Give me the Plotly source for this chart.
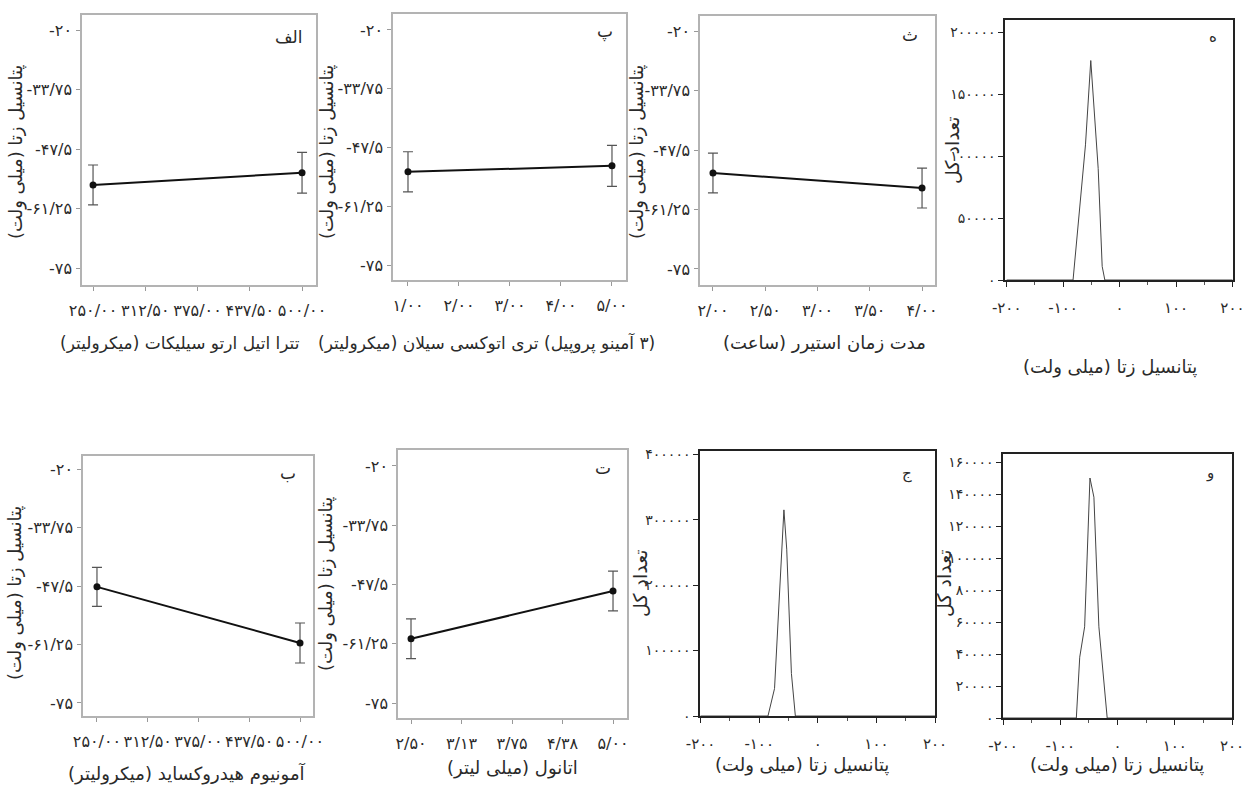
import plotly.graph_objects as go

W, H = 1247, 785

# ---------------- data ----------------
teos_x = [250, 500]
teos_zeta = [-55.8, -53.0]
teos_err = [4.6, 4.7]

aptes_x = [1, 5]
aptes_zeta = [-53.2, -51.8]
aptes_err = [4.7, 4.8]

stir_x = [2, 4]
stir_zeta = [-52.8, -56.3]
stir_err = [4.6, 4.6]

nh4oh_x = [250, 500]
nh4oh_zeta = [-47.7, -60.9]
nh4oh_err = [4.6, 4.7]

ethanol_x = [2.5, 5]
ethanol_zeta = [-60.1, -49.0]
ethanol_err = [4.6, 4.6]

# zeta distributions (mV vs total counts)
dist_h_mv = [-200, -82.4, -60.4, -51.0, -37.9, -30.8, -26.1, 200]
dist_h_cnt = [0, 0, 109000, 177000, 90000, 11000, 0, 0]

dist_j_mv = [-200, -85, -73.8, -57.8, -53, -45, -38.3, 200]
dist_j_cnt = [0, 0, 42000, 315000, 255000, 65000, 0, 0]

dist_v_mv = [-200, -71.9, -66, -57.4, -48.1, -41.2, -32.5, -18, 200]
dist_v_cnt = [0, 0, 38000, 57000, 150000, 138000, 57000, 0, 0]

# tick values and labels
zeta_ticks = [-20, -33.75, -47.5, -61.25, -75]
zeta_ticktext = ["-۲۰", "-۳۳/۷۵", "-۴۷/۵", "-۶۱/۲۵", "-۷۵"]
vol_ticks = [250, 312.5, 375, 437.5, 500]
vol_ticktext = ["۲۵۰/۰۰", "۳۱۲/۵۰", "۳۷۵/۰۰", "۴۳۷/۵۰", "۵۰۰/۰۰"]
aptes_ticks = [1, 2, 3, 4, 5]
aptes_ticktext = ["۱/۰۰", "۲/۰۰", "۳/۰۰", "۴/۰۰", "۵/۰۰"]
stir_ticks = [2, 2.5, 3, 3.5, 4]
stir_ticktext = ["۲/۰۰", "۲/۵۰", "۳/۰۰", "۳/۵۰", "۴/۰۰"]
eth_ticks = [2.5, 3.125, 3.75, 4.375, 5]
eth_ticktext = ["۲/۵۰", "۳/۱۳", "۳/۷۵", "۴/۳۸", "۵/۰۰"]
mv_ticks = [-200, -100, 0, 100, 200]
mv_ticktext = ["-۲۰۰", "-۱۰۰", "۰", "۱۰۰", "۲۰۰"]
cnt_h_ticks = [0, 50000, 100000, 150000, 200000]
cnt_h_text = ["۰", "۵۰۰۰۰", "۱۰۰۰۰۰", "۱۵۰۰۰۰", "۲۰۰۰۰۰"]
cnt_j_ticks = [0, 100000, 200000, 300000, 400000]
cnt_j_text = ["۰", "۱۰۰۰۰۰", "۲۰۰۰۰۰", "۳۰۰۰۰۰", "۴۰۰۰۰۰"]
cnt_v_ticks = [0, 20000, 40000, 60000, 80000, 100000, 120000, 140000, 160000]
cnt_v_text = ["۰", "۲۰۰۰۰", "۴۰۰۰۰", "۶۰۰۰۰", "۸۰۰۰۰", "۱۰۰۰۰۰", "۱۲۰۰۰۰", "۱۴۰۰۰۰", "۱۶۰۰۰۰"]

ZETA_TITLE = "پتانسیل زتا (میلی ولت)"
COUNT_TITLE = "تعداد کل"
RLE, PDF = "\u202b", "\u202c"

FONT = "DejaVu Sans"
TXT = "#2a2a2a"


def px_x(p):
    return p / W


def px_y(p):
    return 1 - p / H


fig = go.Figure()

line_panels = [
    (1, teos_x, teos_zeta, teos_err, (82, 316, 15, 285), [236.8, 516.7], [-78.93, -16.53],
     vol_ticks, vol_ticktext, "الف", (289, 37), "تترا اتیل ارتو سیلیکات (میکرولیتر)", (180, 343), 17, (16, 152)),
    (2, aptes_x, aptes_zeta, aptes_err, (393, 626, 14, 280), [0.706, 5.275], [-78.51, -16.26],
     aptes_ticks, aptes_ticktext, "پ", (605, 32), "(۳ آمینو پروپیل) تری اتوکسی سیلان (میکرولیتر)", (486, 343), 17, (327, 152)),
    (3, stir_x, stir_zeta, stir_err, (700, 935, 16, 285), [1.876, 4.124], [-78.70, -16.53],
     stir_ticks, stir_ticktext, "ث", (910, 35), "مدت زمان استیرر (ساعت)", (824, 343), 18, (637, 152)),
    (5, nh4oh_x, nh4oh_zeta, nh4oh_err, (83, 313, 456, 716), [232.8, 516.0], [-78.06, -16.94],
     vol_ticks, vol_ticktext, "ب", (288, 473), "آمونیوم هیدروکساید (میکرولیتر)", (187, 773), 18, (15, 593)),
    (6, ethanol_x, ethanol_zeta, ethanol_err, (398, 627, 450, 718), [2.339, 5.173], [-78.48, -16.29],
     eth_ticks, eth_ticktext, "ت", (603, 468), "اتانول (میلی لیتر)", (512, 768), 18, (326, 584)),
]

hist_panels = [
    (4, dist_h_mv, dist_h_cnt, (1005, 1233, 20, 280), [-203, 201], [0, 209700],
     cnt_h_ticks, cnt_h_text, "ه", (1213, 37), (1110, 367), (952, 150)),
    (7, dist_j_mv, dist_j_cnt, (700, 935, 451, 716), [-201, 200], [0, 405000],
     cnt_j_ticks, cnt_j_text, "ج", (907, 473), (802, 765), (640, 583)),
    (8, dist_v_mv, dist_v_cnt, (1003, 1232, 454, 718), [-200, 200], [0, 165000],
     cnt_v_ticks, cnt_v_text, "و", (1210, 473), (1117, 765), (944, 583)),
]

annotations = []


def ann(text, pos, size, angle=0):
    annotations.append(dict(text=text, x=px_x(pos[0]), y=px_y(pos[1]), xref="paper", yref="paper",
                            xanchor="center", yanchor="middle", textangle=angle, showarrow=False,
                            font=dict(family=FONT, size=size, color=TXT)))


def ax_names(i):
    s = "" if i == 1 else str(i)
    return "x" + s, "y" + s, "xaxis" + s, "yaxis" + s


for (i, xs, ys, es, box, xr, yr, xt, xtt, letter, lpos, xtitle, xtpos, xtsize, ytpos) in line_panels:
    xn, yn, xk, yk = ax_names(i)
    fig.add_trace(go.Scatter(
        x=xs, y=ys, xaxis=xn, yaxis=yn, mode="lines+markers",
        line=dict(color="#111", width=2),
        marker=dict(color="#111", size=7),
        error_y=dict(type="data", array=es, visible=True, color="#555", thickness=1.2, width=5),
        showlegend=False, hoverinfo="skip"))
    l, r, t, b = box
    fig.layout[xk] = dict(
        domain=[px_x(l), px_x(r)], range=xr, anchor=yn, automargin=False, tickangle=0,
        tickvals=xt, ticktext=xtt, ticks="outside", ticklen=4, tickcolor="#999",
        showline=True, mirror=True, linecolor="#b3b3b3", linewidth=1.5,
        showgrid=False, zeroline=False, ticklabelstandoff=6,
        tickfont=dict(family=FONT, size=16, color=TXT))
    fig.layout[yk] = dict(
        domain=[px_y(b), px_y(t)], range=yr, anchor=xn, automargin=False,
        tickvals=zeta_ticks, ticktext=zeta_ticktext, ticks="outside", ticklen=4, tickcolor="#999",
        showline=True, mirror=True, linecolor="#b3b3b3", linewidth=1.5,
        showgrid=False, zeroline=False, ticklabelstandoff=1,
        tickfont=dict(family=FONT, size=16, color=TXT))
    ann(letter, lpos, 17)
    ann(RLE + xtitle + PDF, xtpos, xtsize)
    ann(RLE + ZETA_TITLE + PDF, ytpos, 18, -90)

for (i, xs, ys, box, xr, yr, yt, ytt, letter, lpos, xtpos, ytpos) in hist_panels:
    xn, yn, xk, yk = ax_names(i)
    fig.add_trace(go.Scatter(
        x=xs, y=ys, xaxis=xn, yaxis=yn, mode="lines",
        line=dict(color="#444", width=1),
        showlegend=False, hoverinfo="skip"))
    l, r, t, b = box
    fig.layout[xk] = dict(
        domain=[px_x(l), px_x(r)], range=xr, anchor=yn, automargin=False, tickangle=0,
        tickvals=mv_ticks, ticktext=mv_ticktext, ticks="outside", ticklen=5, tickcolor="#222",
        minor=dict(dtick=50, ticks="outside", ticklen=3, tickcolor="#555"),
        showline=True, mirror=True, linecolor="#222", linewidth=1.5,
        showgrid=False, zeroline=False, ticklabelstandoff=8,
        tickfont=dict(family=FONT, size=15, color=TXT))
    fig.layout[yk] = dict(
        domain=[px_y(b), px_y(t)], range=yr, anchor=xn, automargin=False,
        tickvals=yt, ticktext=ytt, ticks="outside", ticklen=5, tickcolor="#222",
        showline=True, mirror=True, linecolor="#222", linewidth=1.5,
        showgrid=False, zeroline=False, ticklabelstandoff=0,
        tickfont=dict(family=FONT, size=14, color=TXT))
    ann(letter, lpos, 15)
    ann(RLE + ZETA_TITLE + PDF, xtpos, 18)
    ann(RLE + COUNT_TITLE + PDF, ytpos, 19, -90)

fig.update_layout(
    width=W, height=H,
    margin=dict(l=0, r=0, t=0, b=0, autoexpand=False),
    paper_bgcolor="white", plot_bgcolor="white",
    showlegend=False,
    annotations=annotations,
    font=dict(family=FONT, color=TXT),
)

fig.write_html("out.html", config={"displayModeBar": False},
               post_script="document.body.style.margin='0';")
